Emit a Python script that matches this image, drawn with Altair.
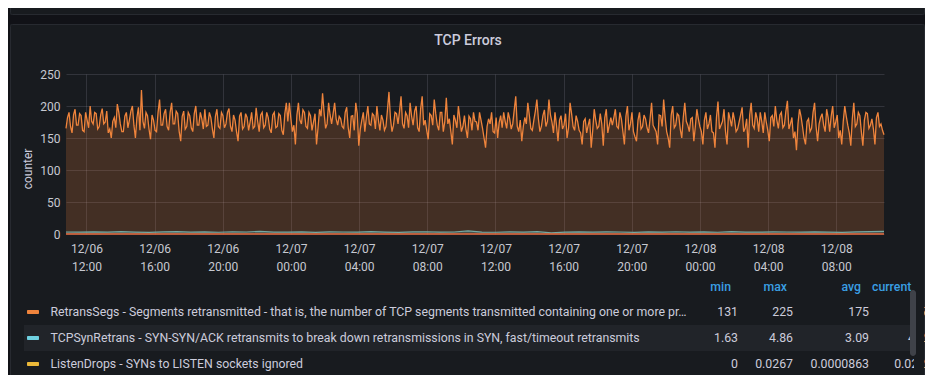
import altair as alt
import pandas as pd

# ---------------- data ----------------
# RetransSegs, read left to right in six sections of the plot (main samples)
retrans_s1 = [165,190,158,195,170,185,160,178,200,172,188,168,196,175,158,150,182,203,172,160,190,178,200,150,198,225,165,185,148,178,160,210,170,195,162,205,172,188,145,192,168,185,160,200,170,180]
retrans_s2 = [195,170,182,150,195,165,185,172,196,160,178,145,190,168,182,175,165,197,160,190,170,182,158,190,168,185,155,205,205,160,140,205,172,190,165,185,175,140,195,220,165,205,172,205,170]
retrans_s3 = [180,165,198,150,185,205,138,178,160,200,170,185,200,162,178,168,222,160,190,172,215,165,185,205,170,200,160,215,178,148,185,210,170,190,160,213,180,140,178,200,160,185,150,180,190]
retrans_s4 = [175,190,165,135,180,190,158,150,185,190,165,180,172,215,160,145,182,205,165,178,210,160,185,168,210,175,190,145,185,170,150,205,168,185,162,140,180,170,135,195,165,188,138,195,170]
retrans_s5 = [170,195,165,180,140,200,172,160,145,190,168,180,158,205,165,140,185,210,160,135,200,170,185,150,205,170,180,145,195,168,140,190,172,160,135,207,170,195,140,180,190,160,175,198,165]
retrans_s6 = [135,205,165,180,190,158,175,145,185,200,165,190,170,208,172,150,131,195,168,140,180,165,205,145,182,170,195,160,200,175,150,140,200,170,138,205,172,185,138,190,165,180,140,190,172,155]
# RetransSegs, the samples lying between the ones above
retrans_b1 = [182,168,186,170,188,162,190,166,176,190,164,186,172,192,164,176,166,190,160,184,166,192,170,182,162,176,190,164,186,162,190,170,188,168,190,172,192,160,184,164,190,166,188,170,190,164]
retrans_b2 = [168,190,164,184,168,190,166,190,168,186,160,184,164,188,162,190,168,176,186,166,190,164,186,166,188,162,188,176,180,170,186,178,194,168,190,162,188,166,184,190,172,186,188,180,184]
retrans_b3 = [168,190,166,184,162,188,164,190,182,172,188,164,178,186,162,194,180,170,188,192,172,190,166,184,192,166,196,170,162,188,170,188,162,190,176,172,160,186,166,180,168,164,184,162,176]
retrans_b4 = [162,178,150,168,172,160,182,174,166,176,190,164,194,168,178,168,172,186,162,192,180,168,194,176,186,158,170,178,164,188,166,188,162,176,158,176,158,180,162,178,168,172,182,158,182]
retrans_b5 = [182,168,190,160,184,162,190,152,178,164,186,166,180,170,160,186,168,182,150,186,166,188,164,182,176,160,182,168,180,160,178,164,186,158,182,164,176,160,190,168,178,164,186,160,180]
retrans_b6 = [186,170,190,160,176,190,162,182,168,178,186,166,192,164,182,160,172,184,150,176,160,190,168,172,188,160,182,184,166,186,162,176,184,158,180,168,190,160,178,188,170,164,182,168,162]

syn_retrans = [3.1,2.8,3.4,2.9,3.6,3.0,2.5,3.3,3.8,2.9,3.2,2.7,3.5,3.1,4.2,2.8,3.0,3.3,2.6,3.4,
               3.1,2.9,3.7,3.0,2.4,3.2,3.5,2.8,3.1,4.86,3.0,2.7,3.3,2.9,3.6,1.63,3.0,3.2,2.8,3.4,
               3.1,2.6,3.3,3.0,3.5,2.9,3.2,2.7,3.8,3.0,2.8,3.3,3.1,2.9,3.4,3.0,2.6,3.2,3.6,4.2]

listen_drops = [0,0,0,0,0,0,0,0,0,0,0,0,0,0.0267,0,0,0,0,0,0,0,0,0,0.0222]

y_ticks = [0, 50, 100, 150, 200, 250]

series_names = [
    "RetransSegs - Segments retransmitted - that is, the number of TCP segments transmitted containing one or more previously transmitted octets",
    "TCPSynRetrans - SYN-SYN/ACK retransmits to break down retransmissions in SYN, fast/timeout retransmits",
    "ListenDrops - SYNs to LISTEN sockets ignored",
]
series_colors = ["#EF843C", "#6ED0E0", "#EAB839"]
legend_min = ["131", "1.63", "0"]
legend_max = ["225", "4.86", "0.0267"]
legend_avg = ["175", "3.09", "0.0000863"]
legend_cur = ["155", "4.21", "0.0222"]
legend_headers = ["min", "max", "avg", "current"]

# ---------------- tables ----------------
start = pd.Timestamp("2023-12-06 10:48", tz="UTC")
end = pd.Timestamp("2023-12-08 10:48", tz="UTC")


def interleave(a, b):
    out = []
    for i, v in enumerate(a):
        out.append(v)
        if i < len(b):
            out.append(b[i])
    return out


def frame(values):
    t = pd.date_range(start, end, periods=len(values))
    return pd.DataFrame({"t": t.strftime("%Y-%m-%dT%H:%M:%SZ"), "v": values})


retrans = (interleave(retrans_s1, retrans_b1) + interleave(retrans_s2, retrans_b2)
           + interleave(retrans_s3, retrans_b3) + interleave(retrans_s4, retrans_b4)
           + interleave(retrans_s5, retrans_b5) + interleave(retrans_s6, retrans_b6))
df_r = frame(retrans)
df_s = frame(syn_retrans)
df_l = frame(listen_drops)

tick_times = pd.date_range("2023-12-06 12:00", periods=12, freq="4h", tz="UTC")
x_tick_values = [int(t.value // 10**6) for t in tick_times]

FONT = "Roboto"
TXT = "#ccccdc"
PANEL = "#181b1f"
OUTER = "#111217"
dummy = alt.Data(values=[{"a": 1}])

x_enc = alt.X(
    "t:T",
    scale=alt.Scale(type="utc", domain=[int(start.value // 10**6), int(end.value // 10**6)]),
    axis=alt.Axis(
        values=x_tick_values,
        labelExpr="[utcFormat(datum.value, '%m/%d'), utcFormat(datum.value, '%H:%M')]",
        title=None, ticks=False, domain=False, grid=True,
        gridColor="#ccccdc", gridOpacity=0.15,
        labelColor="#c7c9d1", labelFont=FONT, labelFontSize=12,
        labelPadding=9, labelLineHeight=18, labelFlush=False, labelOverlap=False,
    ),
)


def y_enc():
    return alt.Y(
        "v:Q",
        scale=alt.Scale(domain=[0, 250], nice=False, zero=True),
        axis=alt.Axis(
            values=y_ticks, title=None, ticks=False, domain=False, grid=True,
            gridColor="#ccccdc", gridOpacity=0.15,
            labelColor="#c7c9d1", labelFont=FONT, labelFontSize=12, labelPadding=6,
        ),
    )


def rect(x, x2, y, y2, **kw):
    return alt.Chart(dummy).mark_rect(**kw).encode(
        x=alt.value(x), x2=alt.value(x2), y=alt.value(y), y2=alt.value(y2)
    )


def text(s, x, y, **kw):
    opts = dict(font=FONT, fontSize=12.3, color=TXT, baseline="middle", align="left")
    opts.update(kw)
    return alt.Chart(dummy).mark_text(text=s, **opts).encode(x=alt.value(x), y=alt.value(y))


layers = []
# panel frame pieces (outside plot area)
layers.append(rect(-58, -56, -66, 301, color=OUTER))
layers.append(rect(-58, 859, -59, -50, color=OUTER))
layers.append(rect(-55.5, 858.5, -80, -59.5, filled=False, stroke="#272a30", strokeWidth=1, cornerRadius=2))
layers.append(rect(-55.5, 858.5, -49.5, 320, filled=False, stroke="#272a30", strokeWidth=1, cornerRadius=2))
# highlighted legend row
layers.append(rect(-42, 848, 251, 277, color="#212429"))

# series
layers.append(alt.Chart(df_r).mark_area(color=series_colors[0], opacity=0.2).encode(x=x_enc, y=y_enc()))
layers.append(alt.Chart(df_r).mark_line(color=series_colors[0], strokeWidth=1.3).encode(x=x_enc, y=y_enc()))
layers.append(alt.Chart(df_s).mark_area(color=series_colors[1], opacity=0.2).encode(x=x_enc, y=y_enc()))
layers.append(alt.Chart(df_s).mark_line(color="#75a9a2", strokeWidth=1.2).encode(x=x_enc, y=y_enc()))
layers.append(alt.Chart(df_l).mark_line(color="#e5683c", strokeWidth=1.5).encode(x=x_enc, y=y_enc()))

# titles
layers.append(text("TCP Errors", 402, -33, align="center", fontSize=14, fontWeight=500))
layers.append(text("counter", -38, 95, align="center", angle=270, fontSize=12))

# legend table
header_x = [665, 721, 795, 806]
header_align = ["right", "right", "right", "left"]
for h, hx, ha in zip(legend_headers, header_x, header_align):
    layers.append(text(h, hx, 213, align=ha, color="#3a9fe4", fontWeight=500))

for i in range(3):
    ry = 238 + 26 * i
    layers.append(rect(-39, -27, ry - 2, ry + 2, color=series_colors[i], cornerRadius=1))
    layers.append(text(series_names[i], -15.5, ry, limit=642))
    layers.append(text(legend_min[i], 672, ry, align="right"))
    layers.append(text(legend_max[i], 727, ry, align="right"))
    layers.append(text(legend_avg[i], 803, ry, align="right"))
    layers.append(text(legend_cur[i], 866, ry, align="right"))

# legend clip edge and scrollbar
layers.append(rect(848, 858, 200, 300, color=PANEL))
layers.append(rect(844, 850, 216, 282, color="#3f4249", cornerRadius=3))

chart = (
    alt.layer(*layers)
    .properties(
        width=818,
        height=160,
        padding={"left": 58, "top": 66, "right": 41, "bottom": 141},
        autosize=alt.AutoSizeParams(type="none"),
        background=PANEL,
    )
    .configure_view(strokeWidth=0)
)

chart.save("out.html", embed_options={"renderer": "svg", "actions": False})
